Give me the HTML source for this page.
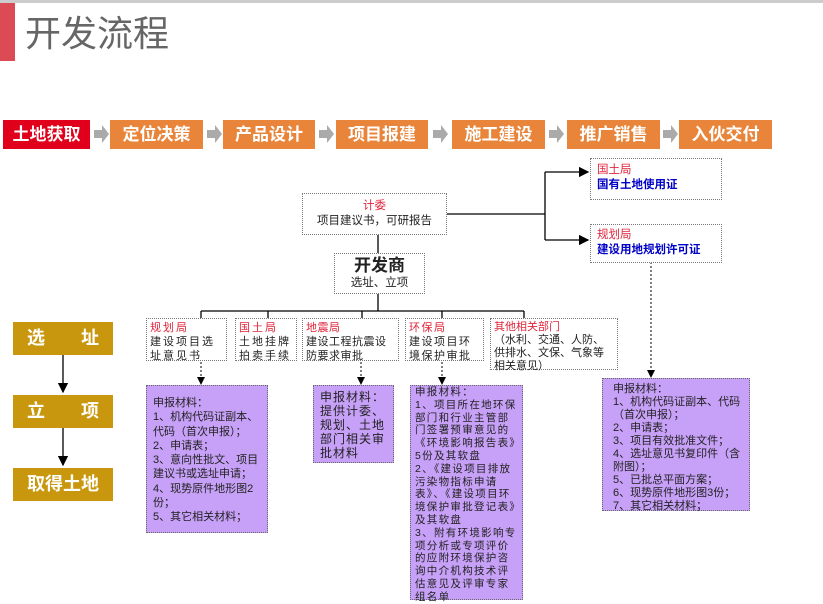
<!DOCTYPE html>
<html><head><meta charset="utf-8"><style>
*{margin:0;padding:0;box-sizing:border-box}
body{width:823px;height:603px;background:#fff;position:relative;overflow:hidden;font-family:"Liberation Sans","Noto Sans CJK SC",sans-serif}
.a{position:absolute}
.top{top:120px;height:29px;background:#e8853a;color:#fff;font-weight:bold;font-size:17px;line-height:29px;text-align:center}
.d{border:1px dotted #777;background:#fff;font-size:11.5px;color:#222;line-height:15px;padding:2px 6px}
.dd{font-size:11px;line-height:14px;padding:2px 3px;letter-spacing:0.5px}
.r{color:#e0243a}
.p{background:#c7a0f7;border:1px dotted #666;font-size:11px;line-height:14.3px;color:#222;padding:4px 6px}
.g{left:13px;width:100px;height:33px;background:#c9970e;color:#fff;font-weight:bold;font-size:18px;line-height:33px;text-align:center}
</style></head><body>
<div class="a" style="left:0;top:0;width:823px;height:3px;background:#ccc"></div>
<div class="a" style="left:0;top:3px;width:15px;height:58px;background:#dc4a55"></div>
<div class="a" style="left:25px;top:12px;font-size:36px;color:#666;line-height:44px">开发流程</div>

<div class="a top" style="left:3px;width:87px;background:#e0001b">土地获取</div>
<div class="a top" style="left:110px;width:93px">定位决策</div>
<div class="a top" style="left:223px;width:92px">产品设计</div>
<div class="a top" style="left:336px;width:92px">项目报建</div>
<div class="a top" style="left:452px;width:93px">施工建设</div>
<div class="a top" style="left:567px;width:93px">推广销售</div>
<div class="a top" style="left:679px;width:93px">入伙交付</div>

<svg class="a" style="left:0;top:0" width="823" height="603">
<defs><marker id="m" markerWidth="8" markerHeight="8" refX="7" refY="4" orient="auto"><path d="M0,0L8,4L0,8z" fill="#000"/></marker></defs>
<g fill="#aaa">
<path d="M94,130h8v-5l7,9l-7,9v-5h-8z"/>
<path d="M207,130h8v-5l7,9l-7,9v-5h-8z"/>
<path d="M319,130h8v-5l7,9l-7,9v-5h-8z"/>
<path d="M433,130h8v-5l7,9l-7,9v-5h-8z"/>
<path d="M549,130h8v-5l7,9l-7,9v-5h-8z"/>
<path d="M663,130h8v-5l7,9l-7,9v-5h-8z"/>
</g>
<g stroke="#000" stroke-width="1.3" fill="none">
<path d="M447,214H545M545,172V240"/>
<path d="M545,172H588" marker-end="url(#m)"/>
<path d="M545,240H588" marker-end="url(#m)"/>
<path d="M378,235V253M378,294V311M201,311H524M201,311V318M268,311V318M362,311V318M442,311V318M524,311V318"/>
<path d="M63,355V392" marker-end="url(#m)"/>
<path d="M63,427V465" marker-end="url(#m)"/>
</g>
<g stroke="#000" stroke-width="1" stroke-dasharray="2,2" fill="none">
<path d="M201,362V384" marker-end="url(#m)"/>
<path d="M361,362V384" marker-end="url(#m)"/>
<path d="M442,362V384" marker-end="url(#m)"/>
<path d="M651,262V377" marker-end="url(#m)"/>
</g>
</svg>

<div class="a d" style="left:590px;top:158px;width:132px;height:42px;padding-top:4px"><div class="r">国土局</div><div style="color:#0000c8;font-weight:bold">国有土地使用证</div></div>
<div class="a d" style="left:590px;top:224px;width:132px;height:39px;padding-top:3px"><div class="r">规划局</div><div style="color:#0000c8;font-weight:bold">建设用地规划许可证</div></div>
<div class="a d" style="left:302px;top:193px;width:145px;height:42px;text-align:center;padding-top:5px"><div class="r">计委</div><div>项目建议书，可研报告</div></div>
<div class="a d" style="left:334px;top:253px;width:91px;height:41px;text-align:center;padding:2px 0"><div style="font-size:17px;font-weight:bold;line-height:20px">开发商</div><div>选址、立项</div></div>

<div class="a d dd" style="left:146px;top:318px;width:81px;height:43px;letter-spacing:2px"><div class="r">规划局</div>建设项目选址意见书</div>
<div class="a d dd" style="left:235px;top:318px;width:62px;height:43px;letter-spacing:2px"><div class="r">国土局</div>土地挂牌拍卖手续</div>
<div class="a d dd" style="left:302px;top:318px;width:97px;height:43px;letter-spacing:0.5px"><div class="r">地震局</div>建设工程抗震设防要求审批</div>
<div class="a d dd" style="left:405px;top:318px;width:79px;height:43px;letter-spacing:1.5px"><div class="r">环保局</div>建设项目环境保护审批</div>
<div class="a d dd" style="left:490px;top:318px;width:128px;height:52px;line-height:13px;letter-spacing:0"><div class="r">其他相关部门</div>（水利、交通、人防、供排水、文保、气象等相关意见）</div>

<div class="a p" style="left:146px;top:385px;width:122px;height:148px;padding-top:10px">申报材料：<br>1、机构代码证副本、代码（首次申报）；<br>2、申请表；<br>3、意向性批文、项目建议书或选址申请；<br>4、现势原件地形图2份；<br>5、其它相关材料；</div>
<div class="a p" style="left:313px;top:385px;width:81px;height:78px;font-size:12px;line-height:14px;letter-spacing:1px">申报材料：<br>提供计委、规划、土地部门相关审批材料</div>
<div class="a p" style="left:410px;top:385px;width:113px;height:215px;padding:0 4px;line-height:12.8px;font-size:10.5px;letter-spacing:1.3px">申报材料：<br>1、项目所在地环保部门和行业主管部门签署预审意见的《环境影响报告表》5份及其软盘<br>2、《建设项目排放污染物指标申请表》、《建设项目环境保护审批登记表》及其软盘<br>3、附有环境影响专项分析或专项评价的应附环境保护咨询中介机构技术评估意见及评审专家组名单</div>
<div class="a p" style="left:602px;top:378px;width:148px;height:133px;padding-left:10px;line-height:13px">申报材料：<br>1、机构代码证副本、代码（首次申报）；<br>2、申请表；<br>3、项目有效批准文件；<br>4、选址意见书复印件（含附图）；<br>5、已批总平面方案；<br>6、现势原件地形图3份；<br>7、其它相关材料；</div>

<div class="a g" style="top:322px">选　　址</div>
<div class="a g" style="top:395px">立　　项</div>
<div class="a g" style="top:468px">取得土地</div>
</body></html>
